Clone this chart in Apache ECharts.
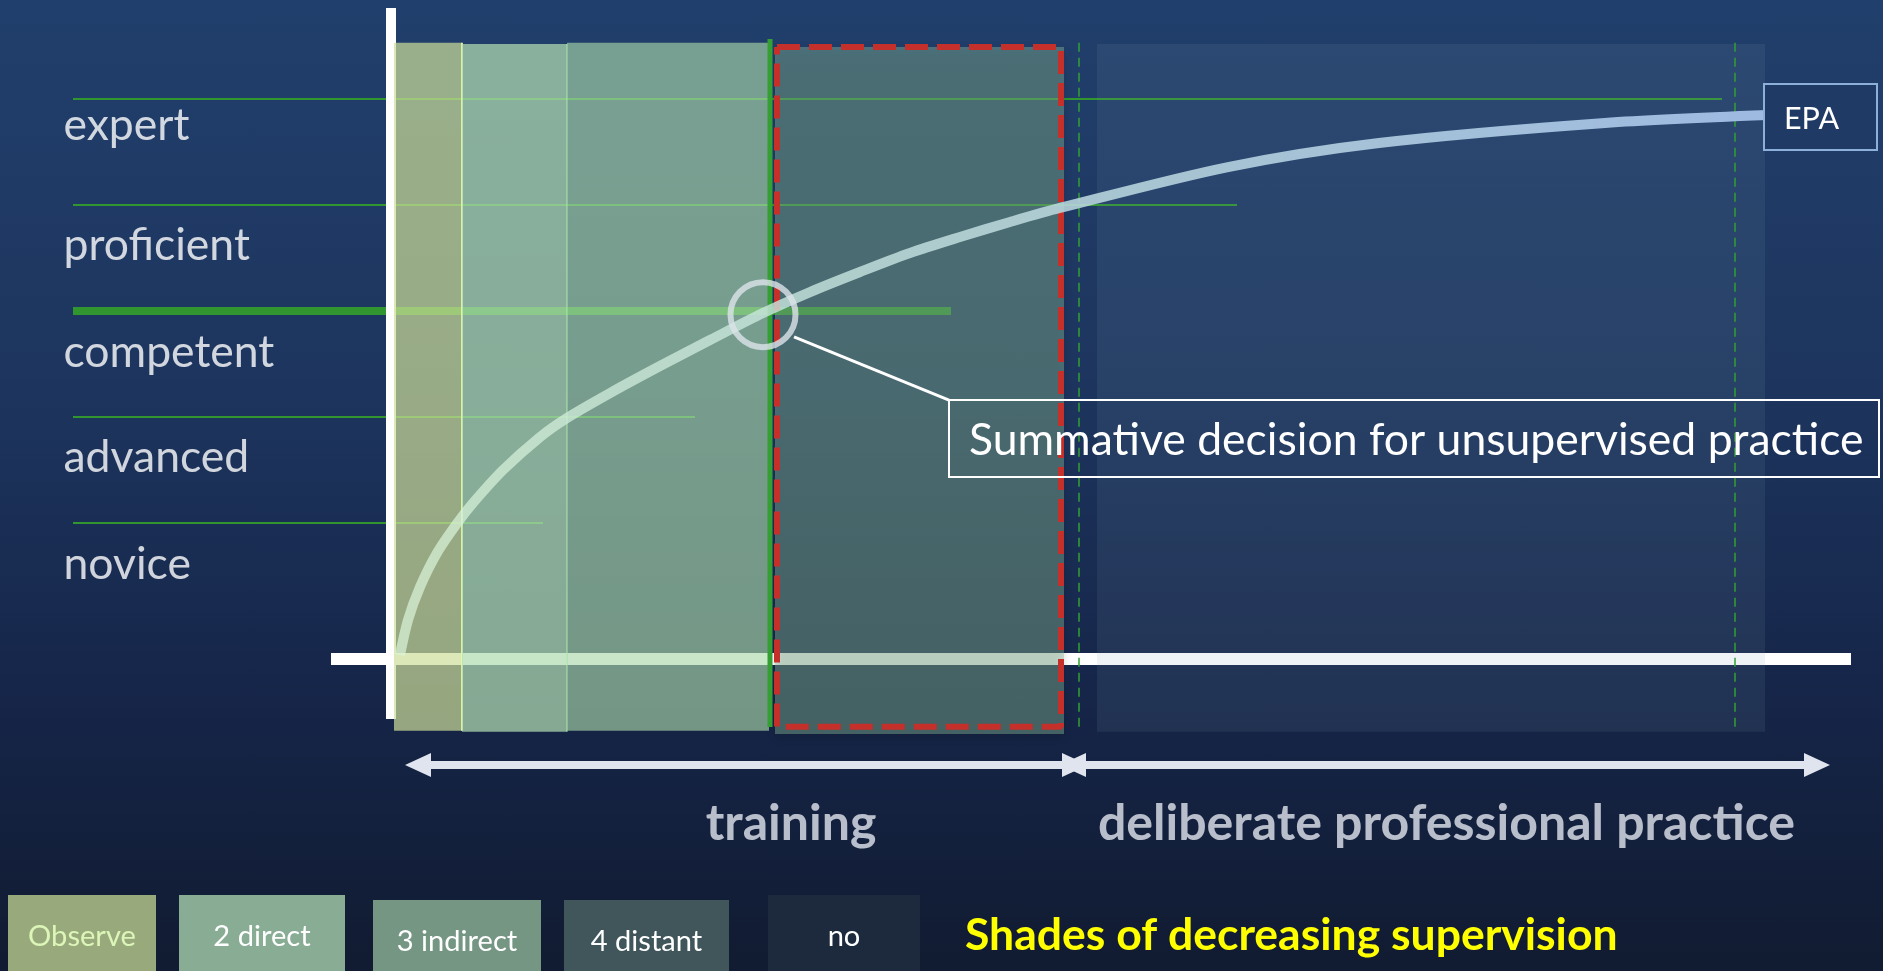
<!DOCTYPE html>
<html><head><meta charset="utf-8">
<script src="https://cdn.jsdelivr.net/npm/echarts@6/dist/echarts.min.js"></script>
<style>
html,body{margin:0;padding:0;width:1883px;height:971px;overflow:hidden;
background:linear-gradient(180deg,#213f6c 0%,#1d355e 40%,#16264a 70%,#111b31 100%);}
#c{width:1883px;height:971px;}
</style>
</head><body><div id="c"></div>
<script>
// ---- data (x: time units, y: competence level) ----
const levelNames = ['novice', 'advanced', 'competent', 'proficient', 'expert'];
const levelValues = [1, 2, 3, 4, 5];
const levelLineEnd = [15.3, 30.5, 56.1, 84.7, 133.2];
const levelLabelY = [0.605, 1.615, 2.605, 3.615, 4.745];

const stageNames = ['Observe', '2 direct', '3 indirect', '4 distant', 'no'];
const stageStart = [0.4, 7.2, 17.7, 38.5, 70.7];
const stageEnd = [7.2, 17.7, 37.9, 67.4, 137.5];
const stageTop = [5.53, 5.52, 5.53, 5.49, 5.52];
const stageBottom = [-0.96, -0.97, -0.96, -0.99, -0.97];

const curveX = [1.0, 1.8, 3.0, 4.7, 6.8, 8.3, 11.3, 15.0, 17.7, 22.0, 27.0, 32.0, 37.3, 42.0, 47.0, 52.0, 57.0, 62.0, 67.0, 83.8, 98.9, 121.5, 137.7];
const curveY = [-0.245, 0.085, 0.396, 0.717, 1.009, 1.189, 1.5, 1.811, 1.991, 2.226, 2.481, 2.726, 2.981, 3.179, 3.368, 3.547, 3.698, 3.840, 3.972, 4.358, 4.585, 4.774, 4.849];

const decisionPoint = [37.3, 2.965];
const decisionText = 'Summative decision for unsupervised practice';
const epaText = 'EPA';

const phaseNames = ['training', 'deliberate professional practice'];
const phaseStart = [1.5, 67.0];
const phaseEnd = [69.8, 144.0];
const phaseCenter = [40.1, 105.65];

const guideX = [68.9, 134.5];
const legendTitle = 'Shades of decreasing supervision';

// ---- styles ----
const FONT = 'Lato, "Open Sans", sans-serif';
const mctx = document.createElement('canvas').getContext('2d');
function fitSize(text, width, weight) {
  mctx.font = (weight || 'normal') + ' 100px Lato';
  return Math.round(1000 * width / mctx.measureText(text).width) / 10;
}
const stageFill = ['rgba(205,222,152,0.70)', 'rgba(178,220,177,0.72)', 'rgba(171,216,169,0.64)', 'rgba(139,188,153,0.42)', 'rgba(125,155,170,0.12)'];
const legendFill = ['#98aa7c', '#88ad94', '#769684', '#41565a', '#1d2a3d'];
const legendTextColor = ['#dcf5b8', '#ffffff', '#ffffff', '#ffffff', '#ffffff'];

const levelSize = fitSize('competent', 211);
const calloutSize = fitSize(decisionText, 895);
const epaSize = fitSize(epaText, 55);
const phaseSize = (fitSize('training', 172, 'bold') + fitSize(phaseNames[1], 693, 'bold')) / 2;
const titleSize = fitSize(legendTitle, 653, 'bold');
const legendSize = (fitSize('3 indirect', 122) + fitSize('Observe', 106) + fitSize('4 distant', 112)) / 3;

const chart = echarts.init(document.getElementById('c'), null, {renderer: 'canvas'});

function seg(x0, y0, x1, y1) { return [[x0, y0], [x1, y1]]; }

const legendBoxes = [[8, 895, 148], [179, 895, 166], [373, 900, 168], [564, 900, 165], [768, 895, 152]];
const legendTextY = [937, 937, 942, 942, 937];
const graphic = [];
stageNames.forEach((n, i) => {
  const b = legendBoxes[i];
  graphic.push({type: 'rect', shape: {x: b[0], y: b[1], width: b[2], height: 971 - b[1] + 5}, style: {fill: legendFill[i]}, z: 1});
  graphic.push({type: 'text', x: b[0] + b[2] / 2, y: legendTextY[i], style: {text: n, fill: legendTextColor[i], fontSize: legendSize, fontFamily: FONT, align: 'center', verticalAlign: 'middle'}, z: 2});
});
graphic.push({type: 'text', x: 965, y: 936, style: {text: legendTitle, fill: '#ffff00', fontSize: titleSize, fontWeight: 'bold', fontFamily: FONT, align: 'left', verticalAlign: 'middle'}, z: 2});

const option = {
  backgroundColor: 'transparent',
  animation: false,
  grid: {left: 0, right: 0, top: 3.6, bottom: 24},
  xAxis: {type: 'value', min: -39, max: 149.3, show: false},
  yAxis: {type: 'value', min: -3, max: 5.9, show: false},
  graphic: graphic,
  series: [
    { // competence level lines
      type: 'custom', z: 1, silent: true,
      data: levelValues.map((v, i) => [-31.7, levelLineEnd[i], v]),
      renderItem: (p, api) => {
        const a = api.coord([api.value(0), api.value(2)]);
        const b = api.coord([api.value(1), api.value(2)]);
        return {type: 'line', shape: {x1: a[0], y1: a[1], x2: b[0], y2: b[1]},
          style: {stroke: '#31962f', lineWidth: api.value(2) === 3 ? 8 : 2.2}};
      }
    },
    { // vertical axis
      type: 'line', z: 2, symbol: 'none', silent: true,
      data: seg(0.1, -0.849, 0.1, 5.858),
      lineStyle: {color: '#ffffff', width: 10}
    },
    { // horizontal axis
      type: 'line', z: 2, symbol: 'none', silent: true,
      data: seg(-5.9, -0.283, 146.1, -0.283),
      lineStyle: {color: '#ffffff', width: 12}
    },
    { // supervision stages
      type: 'custom', z: 3, silent: true,
      data: stageNames.map((n, i) => [stageStart[i], stageEnd[i], stageBottom[i], stageTop[i], i]),
      renderItem: (p, api) => {
        const i = api.value(4);
        const a = api.coord([api.value(0), api.value(3)]);
        const b = api.coord([api.value(1), api.value(2)]);
        const children = [{type: 'rect', shape: {x: a[0], y: a[1], width: b[0] - a[0], height: b[1] - a[1]},
          style: {fill: stageFill[i], shadowBlur: i === 3 ? 8 : 0, shadowOffsetY: i === 3 ? 3 : 0, shadowColor: 'rgba(0,0,0,0.35)'}}];
        if (i === 0) children.push({type: 'line', shape: {x1: b[0], y1: a[1], x2: b[0], y2: b[1]}, style: {stroke: 'rgba(225,248,170,0.9)', lineWidth: 2}});
        if (i === 1) children.push({type: 'line', shape: {x1: b[0], y1: a[1], x2: b[0], y2: b[1]}, style: {stroke: 'rgba(170,235,170,0.7)', lineWidth: 1.5}});
        return {type: 'group', children: children};
      }
    },
    { // decision boundary (solid green)
      type: 'line', z: 4, symbol: 'none', silent: true,
      data: seg(38.0, -0.925, 38.0, 5.566),
      lineStyle: {color: '#34a034', width: 5}
    },
    { // dashed guides
      type: 'custom', z: 4, silent: true,
      data: guideX.map(x => [x]),
      renderItem: (p, api) => {
        const a = api.coord([api.value(0), 5.53]);
        const b = api.coord([api.value(0), -0.95]);
        return {type: 'line', shape: {x1: a[0], y1: a[1], x2: b[0], y2: b[1]},
          style: {stroke: '#33a033', lineWidth: 1.5, lineDash: [9, 6]}};
      }
    },
    { // red dashed frame (last supervised stage)
      type: 'line', z: 5, symbol: 'none', silent: true,
      data: [[38.7, 5.491], [67.1, 5.491], [67.1, -0.922], [38.7, -0.922], [38.7, 5.491]],
      lineStyle: {color: '#c6302b', width: 6, type: [23, 9]}
    },
    { // EPA growth curve
      type: 'line', z: 6, symbol: 'none', smooth: 0.3, silent: true,
      data: curveX.map((x, i) => [x, curveY[i]]),
      lineStyle: {width: 10, cap: 'butt', color: {type: 'linear', x: 0, y: 0, x2: 1, y2: 0, colorStops: [
        {offset: 0, color: 'rgba(218,244,215,0.72)'},
        {offset: 0.3, color: 'rgba(198,228,222,0.82)'},
        {offset: 1, color: 'rgba(158,186,226,1)'}]}}
    },
    { // decision circle
      type: 'scatter', z: 7, silent: true,
      data: [decisionPoint],
      symbol: 'circle', symbolSize: 65,
      itemStyle: {color: 'rgba(0,0,0,0)', borderColor: '#dde3ea', borderWidth: 6}
    },
    { // callout leader
      type: 'line', z: 7, symbol: 'none', silent: true,
      data: seg(40.4, 2.755, 55.9, 2.16),
      lineStyle: {color: '#ffffff', width: 3}
    },
    { // callout + EPA boxes
      type: 'custom', z: 8, silent: true,
      data: [[55.9, 148.9, 1.434, 2.16, 0], [137.4, 148.7, 4.519, 5.142, 1]],
      renderItem: (p, api) => {
        const k = api.value(4);
        const a = api.coord([api.value(0), api.value(3)]);
        const b = api.coord([api.value(1), api.value(2)]);
        const rect = {type: 'rect', shape: {x: a[0], y: a[1], width: b[0] - a[0], height: b[1] - a[1]},
          style: k === 0 ? {fill: 'rgba(0,0,0,0)', stroke: '#ffffff', lineWidth: 2}
                         : {fill: '#1f3a65', stroke: '#8db0db', lineWidth: 2}};
        let txt;
        if (k === 0) {
          const t = api.coord([57.9, 1.775]);
          txt = {type: 'text', style: {text: decisionText, x: t[0], y: t[1], fill: '#ffffff', fontSize: calloutSize, fontFamily: FONT, align: 'left', verticalAlign: 'middle'}};
        } else {
          const t = api.coord([142.15, 4.81]);
          txt = {type: 'text', style: {text: epaText, x: t[0], y: t[1], fill: '#ffffff', fontSize: epaSize, fontFamily: FONT, align: 'center', verticalAlign: 'middle'}};
        }
        return {type: 'group', children: [rect, txt]};
      }
    },
    { // phase arrows
      type: 'custom', z: 6, silent: true,
      data: phaseNames.map((n, i) => [phaseStart[i], phaseEnd[i], -1.283]),
      renderItem: (p, api) => {
        const a = api.coord([api.value(0), api.value(2)]);
        const b = api.coord([api.value(1), api.value(2)]);
        const L = 26, H = 12, y = a[1], col = '#dfe4ee';
        return {type: 'group', children: [
          {type: 'rect', shape: {x: a[0] + L - 2, y: y - 4, width: b[0] - a[0] - 2 * L + 4, height: 8}, style: {fill: col}},
          {type: 'polygon', shape: {points: [[a[0], y], [a[0] + L, y - H], [a[0] + L, y + H]]}, style: {fill: col}},
          {type: 'polygon', shape: {points: [[b[0], y], [b[0] - L, y - H], [b[0] - L, y + H]]}, style: {fill: col}}
        ]};
      }
    },
    { // phase labels
      type: 'scatter', z: 6, silent: true, symbolSize: 1,
      itemStyle: {color: 'rgba(0,0,0,0)'},
      data: phaseNames.map((n, i) => ({name: n, value: [phaseCenter[i], -1.835]})),
      label: {show: true, position: 'inside', formatter: '{b}', color: '#e2e6ef', fontSize: phaseSize, fontWeight: 'bold', fontFamily: FONT}
    },
    { // level labels
      type: 'scatter', z: 6, silent: true, symbolSize: 1,
      itemStyle: {color: 'rgba(0,0,0,0)'},
      data: levelNames.map((n, i) => ({name: n, value: [-32.7, levelLabelY[i]]})),
      label: {show: true, position: 'right', distance: 0, formatter: '{b}', color: '#ffffff', fontSize: levelSize, fontFamily: FONT, align: 'left', verticalAlign: 'middle'}
    }
  ]
};
chart.setOption(option);
</script>
</body></html>
